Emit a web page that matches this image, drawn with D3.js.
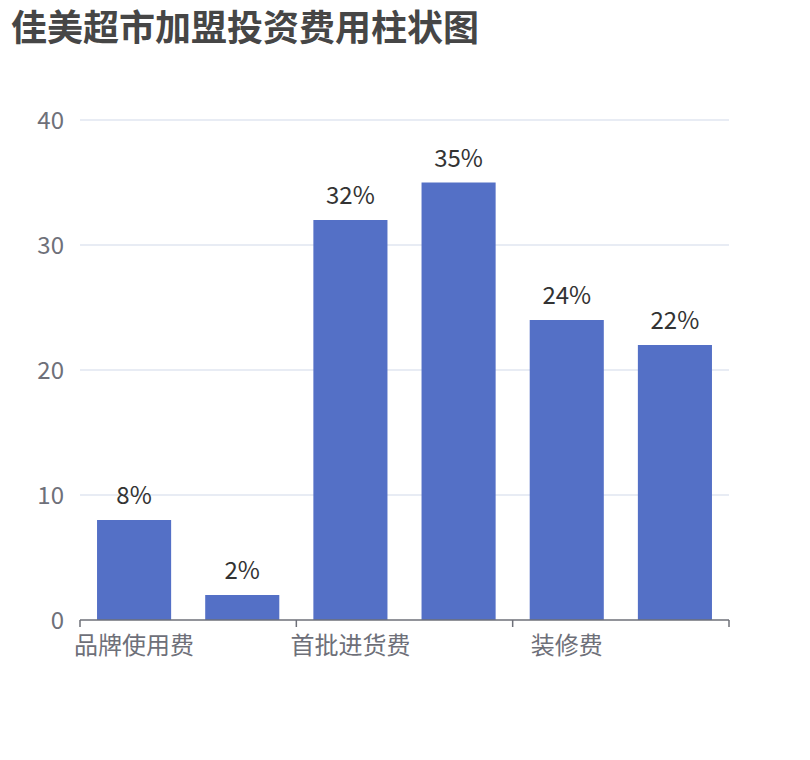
<!DOCTYPE html>
<html>
<head>
<meta charset="utf-8">
<script src="https://cdn.jsdelivr.net/npm/d3@7"></script>
<style>
  body { margin: 0; background: #fff; }
  text { font-family: "Noto Sans CJK SC", "Noto Sans", sans-serif; }
</style>
</head>
<body>
<div id="chart"></div>
<script>
var categories = ['品牌使用费', '加盟费', '首批进货费', '设备费', '装修费', '其他费用'];
var values = [8, 2, 32, 35, 24, 22];
var yTicks = [0, 10, 20, 30, 40];

var width = 810, height = 760;
var margin = { top: 120, right: 81, bottom: 140, left: 80 };

var svg = d3.select('#chart').append('svg')
    .attr('width', width)
    .attr('height', height);

svg.append('text')
    .attr('x', 11)
    .attr('y', 41)
    .attr('font-size', 36)
    .attr('font-weight', 'bold')
    .attr('fill', '#464646')
    .text('佳美超市加盟投资费用柱状图');

var x = d3.scaleBand()
    .domain(categories)
    .range([margin.left, width - margin.right]);

var y = d3.scaleLinear()
    .domain([0, 40])
    .range([height - margin.bottom, margin.top]);

// grid lines
svg.append('g')
    .selectAll('line')
    .data(yTicks.slice(1))
    .enter()
    .append('line')
    .attr('x1', margin.left)
    .attr('x2', width - margin.right)
    .attr('y1', function (d) { return y(d); })
    .attr('y2', function (d) { return y(d); })
    .attr('stroke', '#e0e6f1')
    .attr('stroke-width', 1.5);

// y labels
svg.append('g')
    .selectAll('text')
    .data(yTicks)
    .enter()
    .append('text')
    .attr('x', 64)
    .attr('y', function (d) { return y(d); })
    .attr('dy', '0.36em')
    .attr('text-anchor', 'end')
    .attr('font-size', 24)
    .attr('fill', '#6e7079')
    .text(function (d) { return d; });

// bars
var barW = x.bandwidth() * 0.685;
svg.append('g')
    .selectAll('rect')
    .data(values)
    .enter()
    .append('rect')
    .attr('x', function (d, i) { return x(categories[i]) + (x.bandwidth() - barW) / 2; })
    .attr('y', function (d) { return y(d); })
    .attr('width', barW)
    .attr('height', function (d) { return y(0) - y(d); })
    .attr('fill', '#5470c6');

// value labels
svg.append('g')
    .selectAll('text')
    .data(values)
    .enter()
    .append('text')
    .attr('x', function (d, i) { return x(categories[i]) + x.bandwidth() / 2; })
    .attr('y', function (d) { return y(d) - 16; })
    .attr('text-anchor', 'middle')
    .attr('font-size', 24)
    .attr('fill', '#333')
    .text(function (d) { return d + '%'; });

// x axis
var xAxis = svg.append('g');
xAxis.append('line')
    .attr('x1', margin.left)
    .attr('x2', width - margin.right)
    .attr('y1', y(0))
    .attr('y2', y(0))
    .attr('stroke', '#6e7079')
    .attr('stroke-width', 1.5);

// ticks every second category boundary, plus the end
var tickPos = categories.filter(function (c, i) { return i % 2 === 0; })
    .map(function (c) { return x(c); })
    .concat([width - margin.right]);
xAxis.selectAll('line.tick')
    .data(tickPos)
    .enter()
    .append('line')
    .attr('class', 'tick')
    .attr('x1', function (d) { return d; })
    .attr('x2', function (d) { return d; })
    .attr('y1', y(0))
    .attr('y2', y(0) + 7)
    .attr('stroke', '#6e7079')
    .attr('stroke-width', 1.5);

xAxis.selectAll('text')
    .data(categories.filter(function (c, i) { return i % 2 === 0; }))
    .enter()
    .append('text')
    .attr('x', function (d) { return x(d) + x.bandwidth() / 2; })
    .attr('y', y(0) + 34)
    .attr('text-anchor', 'middle')
    .attr('font-size', 24)
    .attr('fill', '#6e7079')
    .text(function (d) { return d; });
</script>
</body>
</html>
